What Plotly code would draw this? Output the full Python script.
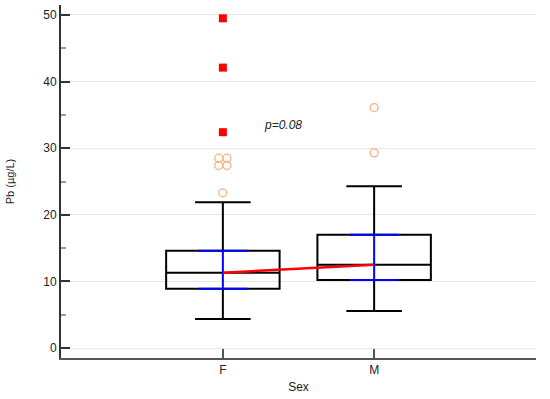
import plotly.graph_objects as go

# Data
categories = ["F", "M"]
cat_pos = [0, 1]
q1 = [8.9, 10.2]
median = [11.3, 12.5]
q3 = [14.6, 17.0]
lower_whisker = [4.35, 5.55]
upper_whisker = [21.9, 24.3]

# far outliers (red squares) for F
far_x = [0, 0, 0]
far_y = [49.5, 42.1, 32.4]
# outside values (open orange circles)
out_x = [-0.027, 0.027, -0.027, 0.027, 0, 1, 1]
out_y = [28.5, 28.5, 27.4, 27.4, 23.3, 36.1, 29.3]

p_text = "p=0.08"
y_ticks = [0, 10, 20, 30, 40, 50]

fig = go.Figure()

for i in range(2):
    fig.add_trace(go.Box(
        x=[cat_pos[i]], q1=[q1[i]], median=[median[i]], q3=[q3[i]],
        lowerfence=[lower_whisker[i]], upperfence=[upper_whisker[i]],
        width=0.75, whiskerwidth=0.49, boxpoints=False,
        line=dict(color="black", width=2), fillcolor="rgba(0,0,0,0)",
        hoverinfo="skip", showlegend=False))

# blue lines (box-level bars and centre line)
hw = 0.162
for i in range(2):
    c = cat_pos[i]
    fig.add_trace(go.Scatter(
        x=[c - hw, c + hw, None, c - hw, c + hw, None, c, c],
        y=[q3[i], q3[i], None, q1[i], q1[i], None, q1[i], q3[i]],
        mode="lines", line=dict(color="#0000FF", width=2),
        hoverinfo="skip", showlegend=False))

# red line connecting medians
fig.add_trace(go.Scatter(x=cat_pos, y=median, mode="lines",
                         line=dict(color="#FF0000", width=2.5),
                         hoverinfo="skip", showlegend=False))

fig.add_trace(go.Scatter(x=out_x, y=out_y, mode="markers",
                         marker=dict(symbol="circle-open", size=8, color="#F4B183",
                                     line=dict(width=1.3)),
                         hoverinfo="skip", showlegend=False))
fig.add_trace(go.Scatter(x=far_x, y=far_y, mode="markers",
                         marker=dict(symbol="square", size=8, color="#FF0000"),
                         hoverinfo="skip", showlegend=False))

fig.add_annotation(x=0.40, y=33.5, text="<i>" + p_text + "</i>", showarrow=False,
                   font=dict(size=12, color="#222222", family="Liberation Sans"))

fig.update_layout(
    width=550, height=399,
    margin=dict(l=61, r=14, t=5, b=41, autoexpand=False),
    plot_bgcolor="white", paper_bgcolor="white",
    font=dict(family="Liberation Sans", size=12, color="#222222"),
)
fig.update_xaxes(
    range=[-1.07, 2.07], tickvals=cat_pos, ticktext=categories,
    showline=True, linecolor="#555555", linewidth=2,
    ticks="inside", ticklen=9, tickcolor="#555555", tickwidth=2,
    showgrid=False, zeroline=False, automargin=False,
    title=dict(text="Sex", font=dict(size=12), standoff=6),
)
fig.update_yaxes(
    range=[-1.5, 51.5], tickvals=y_ticks,
    showline=True, linecolor="#333333", linewidth=2,
    ticks="inside", ticklen=9, tickcolor="#333333", tickwidth=2,
    minor=dict(ticks="inside", ticklen=5, tickcolor="#999999", dtick=5, showgrid=False),
    showgrid=True, gridcolor="#E6E6E6", gridwidth=1, zeroline=False, automargin=False,
    title=dict(text="Pb (µg/L)", font=dict(size=11), standoff=26),
)

fig.write_html("out.html", config={"displayModeBar": False},
               post_script="document.body.style.margin='0';")
